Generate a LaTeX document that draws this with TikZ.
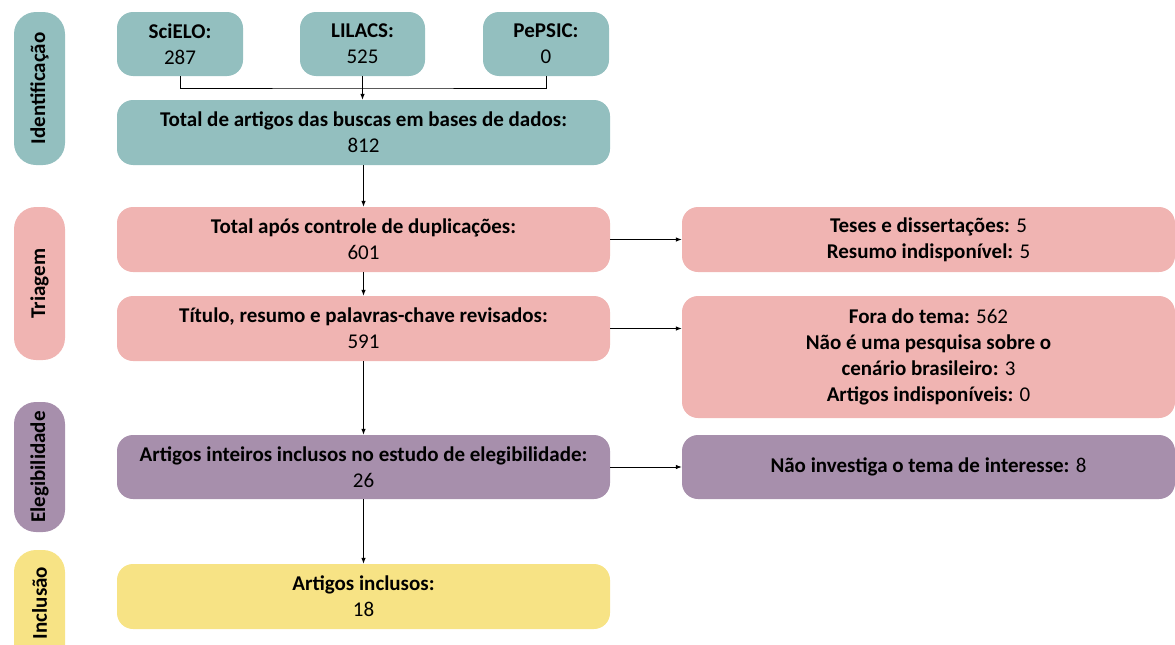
\documentclass[tikz,border=0pt]{standalone}
\usepackage{fontspec}
\setmainfont{Carlito}
\usetikzlibrary{arrows.meta}
\definecolor{cteal}{RGB}{147,191,191}
\definecolor{cpink}{RGB}{240,180,178}
\definecolor{cpurple}{RGB}{167,143,172}
\definecolor{cyellow}{RGB}{247,227,133}
\tikzset{
  box/.style={rounded corners=16pt, draw=none, align=center, inner sep=0pt,
    font=\fontsize{21}{26}\selectfont, text=black},
  side/.style={rounded corners=22pt, draw=none, minimum width=51pt,
    inner sep=0pt},
  sidelabel/.style={rotate=90, font=\bfseries\fontsize{21}{24}\selectfont},
  arr/.style={-{Latex[length=6pt,width=4.5pt]}, line width=0.8pt},
  lin/.style={line width=0.8pt}
}
\begin{document}
\begin{tikzpicture}[x=1pt,y=-1pt]
\useasboundingbox (0,0) rectangle (1175,645);
\clip (0,0) rectangle (1175,645);
% side bars
\node[side, fill=cteal, minimum height=153pt] (sid) at (39.5,88.5) {};
\node[sidelabel] at (sid.center) {Identificação};
\node[side, fill=cpink, minimum height=153pt] (str) at (39.5,283.5) {};
\node[sidelabel] at (str.center) {Triagem};
\node[side, fill=cpurple, minimum height=130pt] (sel) at (39.5,467) {};
\node[sidelabel] at (sel.center) {Elegibilidade};
\node[side, fill=cyellow, minimum height=120pt] (sin) at (39.5,610) {};
\node[sidelabel] at (39.5,603) {Inclusão};
% identification
\node[box, fill=cteal, minimum width=126pt, minimum height=64pt] (scielo) at (180,44) {\textbf{SciELO:}\\287};
\node[box, fill=cteal, minimum width=125pt, minimum height=64pt] (lilacs) at (362.5,44) {\textbf{LILACS:}\\525};
\node[box, fill=cteal, minimum width=126pt, minimum height=64pt] (pepsic) at (546,44) {\textbf{PePSIC:}\\0};
\node[box, fill=cteal, minimum width=493pt, minimum height=65pt] (total) at (363.5,132.5) {\textbf{Total de artigos das buscas em bases de dados:}\\812};
% screening
\node[box, fill=cpink, minimum width=493pt, minimum height=65pt] (dup) at (363.5,239.5) {\textbf{Total após controle de duplicações:}\\601};
\node[box, fill=cpink, minimum width=493pt, minimum height=65pt] (rev) at (363.5,328.5) {\textbf{Título, resumo e palavras-chave revisados:}\\591};
\node[box, fill=cpink, minimum width=493pt, minimum height=65pt] (teses) at (928.5,239.5) {\textbf{Teses e dissertações:} 5\\\textbf{Resumo indisponível:} 5};
\node[box, fill=cpink, minimum width=493pt, minimum height=122pt] (fora) at (928.5,357) {\textbf{Fora do tema:} 562\\\textbf{Não é uma pesquisa sobre o}\\\textbf{cenário brasileiro:} 3\\\textbf{Artigos indisponíveis:} 0};
% eligibility
\node[box, fill=cpurple, minimum width=493pt, minimum height=64pt] (eleg) at (363.5,467) {\textbf{Artigos inteiros inclusos no estudo de elegibilidade:}\\26};
\node[box, fill=cpurple, minimum width=493pt, minimum height=64pt] (naoinv) at (928.5,467) {\textbf{Não investiga o tema de interesse:} 8};
% inclusion
\node[box, fill=cyellow, minimum width=493pt, minimum height=65pt] (incl) at (363.5,596.5) {\textbf{Artigos inclusos:}\\18};
% connectors
\coordinate (j) at (362.5,88);
\draw[lin] (scielo.south) |- (j) -| (pepsic.south);
\draw[arr] (lilacs.south) -- (lilacs.south |- total.north);
\draw[arr] (total.south) -- (dup.north);
\draw[arr] (dup.south) -- (rev.north);
\draw[arr] (rev.south) -- (eleg.north);
\draw[arr] (eleg.south) -- (incl.north);
\draw[arr] (dup.east) -- (teses.west);
\draw[arr] (rev.east) -- (rev.east -| fora.west);
\draw[arr] (eleg.east) -- (naoinv.west);
\end{tikzpicture}
\end{document}
